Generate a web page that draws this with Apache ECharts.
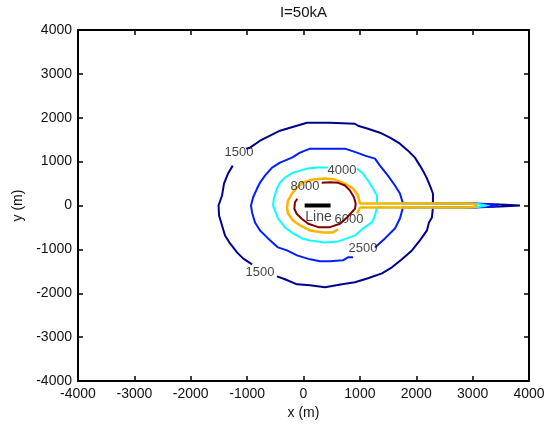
<!DOCTYPE html>
<html><head><meta charset="utf-8">
<script src="https://cdn.jsdelivr.net/npm/echarts@6/dist/echarts.min.js"></script>
<style>html,body{margin:0;padding:0;background:#fff}#c{width:549px;height:425px}</style>
</head><body><div id="c"></div>
<script>
// ---- data ----
const titleText = 'I=50kA';
const xTickValues = [-4000,-3000,-2000,-1000,0,1000,2000,3000,4000];
const yTickValues = [-4000,-3000,-2000,-1000,0,1000,2000,3000,4000];
const levels = [1500, 2500, 4000, 6000, 8000];
const levelColors = ['#00008f', '#001eff', '#0affff', '#ffb400', '#800000'];

// contour level 1500 (null separates pieces broken by labels)
const c1500x = [-1255,-1339,-1410,-1445,-1507,-1498,-1445,-1392,-1303,-1179,-1073,-913, null,
  -470,-328,-115,115,381,683,913,1144,1392,1569,1746,1924,2065,2190,2225,2278,2296,
  3000,3500,3840,3500,3000,2296,
  2296,2243,2190,2137,2065,1977,1853,1711,1534,1356,1144,966,913,470,62,-239,-417,-594,-771,-949,-1019];
const c1500y = [909,727,500,227,0,-227,-455,-682,-864,-1068,-1205,-1341, null,
  -1614,-1682,-1796,-1818,-1864,-1796,-1750,-1659,-1546,-1409,-1227,-1023,-796,-568,-386,-273,-45,
  -45,-22,0,22,45,45,
  273,455,614,750,909,1091,1250,1409,1546,1659,1750,1818,1864,1887,1887,1773,1705,1591,1477,1318,1296];
// contour level 2500
const c2500x = [1268,1445,1622,1711,1764,2900,3300,3450,3300,2900,1764,
  1711,1622,1498,1356,1268,1090,949,736,381,115,-62,-204,-417,-558,-683,-771,-824,-895,-931,
  -913,-860,-771,-629,-452,-293,-115,115,293,470,700,789,878];
const c2500y = [-955,-750,-523,-295,-45,-45,-30,0,30,45,45,
  273,455,682,909,1068,1137,1205,1296,1296,1296,1205,1091,977,864,682,523,386,182,0,
  -159,-386,-568,-750,-955,-1023,-1137,-1227,-1273,-1273,-1250,-1182,-1182];
// contour level 4000
const c4000x = [949,1055,1144,1232,1303,1303,2800,3100,3250,3100,2800,1303,
  1303,1268,1214,1055,913,771,612,381,115,-27,-186,-328,-452,-505,-541,
  -523,-470,-417,-328,-186,62,239,434];
const c4000y = [841,727,568,386,227,45,45,35,0,-35,-45,-45,
  -68,-227,-386,-523,-682,-750,-818,-841,-796,-750,-636,-500,-295,-114,0,
  182,386,523,636,750,841,864,864];
// contour level 6000
const c6000x = [949,1002,2800,3000,3080,3000,2800,1002,
  966,878,736,558,381,168,-9,-115,-204,-275,-293,-275,-186,-62,115,346,523,612];
const c6000y = [-182,-45,-45,-40,0,40,45,45,
  227,386,500,591,614,591,523,409,273,114,-45,-182,-341,-455,-568,-614,-614,-545];
// contour level 8000
const c8000x = [323,470,617,736,824,895,926,913,777,647,470,262,85,-32,-121,-163,-151,-110];
const c8000y = [516,530,516,455,341,189,39,-75,-266,-416,-493,-493,-416,-302,-189,-75,75,152];

// contour labels
const labelX = [-1144,-771,1055,683,807,27];
const labelY = [1205,-1523,-977,795,-318,432];
const labelText = ['1500','1500','2500','4000','6000','8000'];

// the line source
const lineX = [20, 480];
const lineY = [0, 0];
const lineLabel = {x: 266, y: -273, text: 'Line'};

// ---- build ----
const contourX = [c1500x, c2500x, c4000x, c6000x, c8000x];
const contourY = [c1500y, c2500y, c4000y, c6000y, c8000y];
const lineWidths = [2, 2, 2, 2.5, 2];
function pieces(xs, ys) {
  const out = []; let cur = [];
  for (let i = 0; i < xs.length; i++) {
    if (xs[i] === null) { if (cur.length) out.push(cur); cur = []; }
    else cur.push([xs[i], ys[i]]);
  }
  if (cur.length) out.push(cur);
  return out;
}
const FONT = '"Liberation Sans", Arial, sans-serif';
const TXT = '#111';
const series = [];
levels.forEach((lv, k) => {
  pieces(contourX[k], contourY[k]).forEach(p => {
    series.push({
      type: 'line', data: p, symbol: 'none', showSymbol: false, silent: true,
      lineStyle: {color: levelColors[k], width: lineWidths[k]}, z: 2 + k, animation: false
    });
  });
});
series.push({
  type: 'line', data: lineX.map((x, i) => [x, lineY[i]]), symbol: 'none', silent: true,
  lineStyle: {color: '#000', width: 4, cap: 'butt'}, z: 10, animation: false
});
series.push({
  type: 'scatter', symbolSize: 1, itemStyle: {color: 'rgba(0,0,0,0)'}, z: 11, silent: true,
  data: labelX.map((x, i) => ({value: [x, labelY[i]], name: labelText[i]}))
    .concat([{value: [lineLabel.x, lineLabel.y], name: lineLabel.text, label: {fontSize: 14}}]),
  label: {show: true, position: 'inside', formatter: '{b}', fontSize: 13, color: TXT, fontFamily: FONT},
  animation: false
});

const plain = v => String(v);
const axisCommon = {
  type: 'value',
  splitLine: {show: false},
  axisLine: {show: true, onZero: false, lineStyle: {color: '#000', width: 2}},
  axisTick: {show: true, inside: true, length: 5, lineStyle: {color: '#000', width: 1.5}},
};
const chart = echarts.init(document.getElementById('c'), null, {renderer: 'canvas'});
chart.setOption({
  animation: false,
  backgroundColor: '#fff',
  grid: {left: 78, right: 20, top: 29, bottom: 44, containLabel: false},
  xAxis: [
    Object.assign({}, axisCommon, {
      position: 'bottom', min: xTickValues[0], max: xTickValues[xTickValues.length - 1], interval: 1000,
      axisLabel: {show: true, margin: 6, fontSize: 14, color: TXT, fontFamily: FONT, formatter: plain},
      name: 'x (m)', nameLocation: 'middle', nameGap: 24,
      nameTextStyle: {fontSize: 14, color: TXT, fontFamily: FONT}
    }),
    Object.assign({}, axisCommon, {
      position: 'top', min: xTickValues[0], max: xTickValues[xTickValues.length - 1], interval: 1000,
      axisLabel: {show: false},
      name: titleText, nameLocation: 'middle', nameGap: 10,
      nameTextStyle: {fontSize: 15, color: TXT, fontFamily: FONT}
    })
  ],
  yAxis: [
    Object.assign({}, axisCommon, {
      position: 'left', min: yTickValues[0], max: yTickValues[yTickValues.length - 1], interval: 1000,
      axisLabel: {show: true, margin: 6, fontSize: 14, color: TXT, fontFamily: FONT, formatter: plain},
      name: 'y (m)', nameLocation: 'middle', nameGap: 42, nameRotate: 90,
      nameTextStyle: {fontSize: 14, color: TXT, fontFamily: FONT}
    }),
    Object.assign({}, axisCommon, {
      position: 'right', min: yTickValues[0], max: yTickValues[yTickValues.length - 1], interval: 1000,
      axisLabel: {show: false}
    })
  ],
  series: series
});
</script>
</body></html>
